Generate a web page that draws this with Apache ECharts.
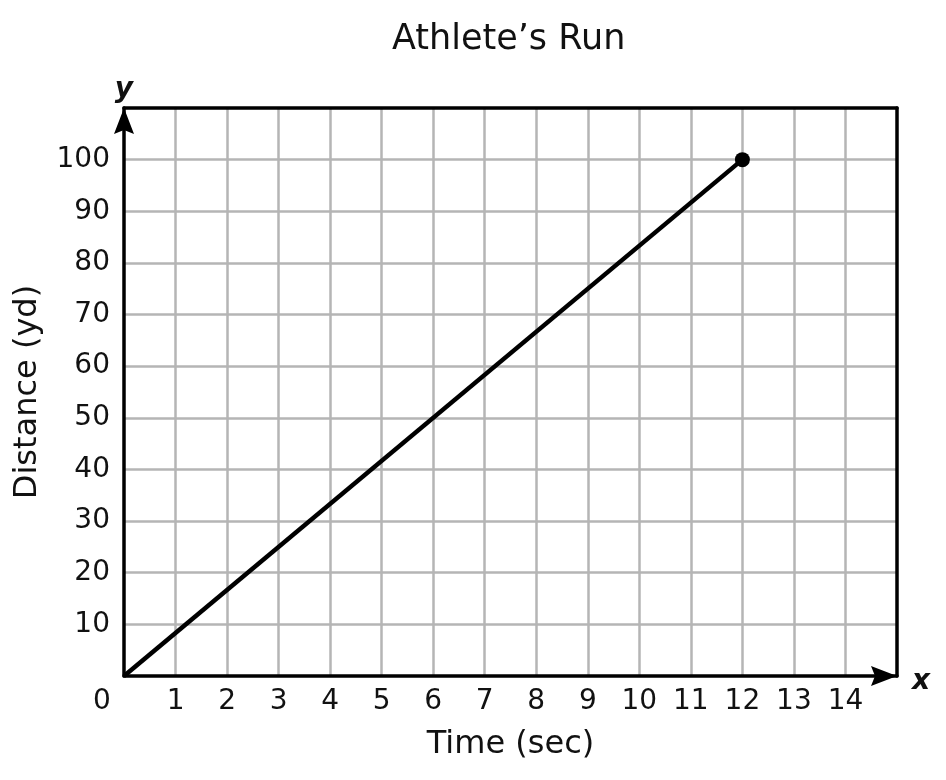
<!DOCTYPE html>
<html>
<head>
<meta charset="utf-8">
<script src="https://cdn.jsdelivr.net/npm/echarts@6/dist/echarts.min.js"></script>
<style>
  html, body { margin: 0; padding: 0; background: #ffffff; }
  #chart { width: 946px; height: 780px; }
</style>
</head>
<body>
<div id="chart"></div>
<script>
// ---- data ----
const timeSec = [0, 12];
const distanceYd = [0, 100];
const xTickLabels = ['0', '1', '2', '3', '4', '5', '6', '7', '8', '9', '10', '11', '12', '13', '14'];
const yTickLabels = ['10', '20', '30', '40', '50', '60', '70', '80', '90', '100'];
const titleText = 'Athlete\u2019s Run';
const xName = 'Time (sec)';
const yName = 'Distance (yd)';

const FONT = 'DejaVu Sans';
const INK = '#111111';
const GRIDC = '#b5b5b5';
const arrowPath = 'path://M10,0L20,26L10,22L0,26Z';

const seriesData = timeSec.map((t, i) => [t, distanceYd[i]]);

const chart = echarts.init(document.getElementById('chart'), null, { renderer: 'canvas' });

const hiddenAxisParts = {
  axisTick: { show: false },
  axisLabel: { show: false },
  splitLine: { show: false }
};

chart.setOption({
  animation: false,
  backgroundColor: '#ffffff',
  title: {
    text: titleText,
    left: 392,
    top: 22,
    padding: 0,
    textStyle: { fontFamily: FONT, fontSize: 35, fontWeight: 'normal', color: INK }
  },
  grid: {
    left: 124, top: 108, right: 49, bottom: 104,
    containLabel: false,
    outerBoundsMode: 'none'
  },
  xAxis: [
    {
      type: 'value', gridIndex: 0, position: 'bottom', min: 0, max: 15, interval: 1,
      name: xName, nameLocation: 'middle', nameGap: 53,
      nameTextStyle: { fontFamily: FONT, fontSize: 32, color: INK },
      axisLine: {
        show: true, onZero: false, symbol: ['none', arrowPath], symbolSize: [20, 26], symbolOffset: [0, -13],
        lineStyle: { color: '#000', width: 3.5 }
      },
      axisTick: { show: false },
      axisLabel: {
        show: true, margin: 12, showMinLabel: true, showMaxLabel: true,
        fontFamily: FONT, fontSize: 28, color: INK,
        formatter: function (v) {
          const s = String(v);
          if (s === '0') return '{o|0}';
          return xTickLabels.indexOf(s) >= 0 ? s : '';
        },
        rich: { o: { fontFamily: FONT, fontSize: 28, color: INK, padding: [0, 44, 0, 0] } }
      },
      splitLine: { show: true, showMinLine: false, showMaxLine: false, lineStyle: { color: GRIDC, width: 2.5 } }
    },
    Object.assign({
      type: 'value', gridIndex: 0, position: 'top', min: 0, max: 15, interval: 1,
      axisLine: { show: true, onZero: false, lineStyle: { color: '#000', width: 3.5 } }
    }, hiddenAxisParts),
    Object.assign({
      type: 'value', gridIndex: 0, position: 'bottom', min: 0, max: 15, interval: 1,
      name: 'x', nameLocation: 'end', nameGap: 15,
      nameTextStyle: { fontFamily: FONT, fontSize: 28, fontWeight: 'bold', fontStyle: 'italic', color: INK, verticalAlign: 'top', lineHeight: 12 },
      axisLine: { show: false, onZero: false }
    }, hiddenAxisParts)
  ],
  yAxis: [
    {
      type: 'value', gridIndex: 0, position: 'left', min: 0, max: 110, interval: 10,
      name: yName, nameLocation: 'middle', nameGap: 80,
      nameTextStyle: { fontFamily: FONT, fontSize: 32, color: INK },
      axisLine: {
        show: true, onZero: false, symbol: ['none', arrowPath], symbolSize: [20, 26], symbolOffset: [0, -13],
        lineStyle: { color: '#000', width: 3.5 }
      },
      axisTick: { show: false },
      axisLabel: {
        show: true, margin: 14, showMinLabel: true, showMaxLabel: true,
        fontFamily: FONT, fontSize: 28, color: INK, padding: [6, 0, 0, 0],
        formatter: function (v) {
          const s = String(v);
          return yTickLabels.indexOf(s) >= 0 ? s : '';
        }
      },
      splitLine: { show: true, showMinLine: false, showMaxLine: false, lineStyle: { color: GRIDC, width: 2.5 } }
    },
    Object.assign({
      type: 'value', gridIndex: 0, position: 'right', min: 0, max: 110, interval: 10,
      axisLine: { show: true, onZero: false, lineStyle: { color: '#000', width: 3.5 } }
    }, hiddenAxisParts),
    Object.assign({
      type: 'value', gridIndex: 0, position: 'left', min: 0, max: 110, interval: 10,
      name: 'y', nameLocation: 'end', nameGap: 4,
      nameTextStyle: { fontFamily: FONT, fontSize: 28, fontWeight: 'bold', fontStyle: 'italic', color: INK },
      axisLine: { show: false, onZero: false }
    }, hiddenAxisParts)
  ],
  series: [
    {
      type: 'line',
      xAxisIndex: 0,
      yAxisIndex: 0,
      data: seriesData,
      z: 5,
      showSymbol: true,
      symbol: function (val) { return val[0] === timeSec[timeSec.length - 1] ? 'circle' : 'none'; },
      symbolSize: 15,
      itemStyle: { color: '#000' },
      lineStyle: { color: '#000', width: 4.5 },
      silent: true
    }
  ]
});
</script>
</body>
</html>
